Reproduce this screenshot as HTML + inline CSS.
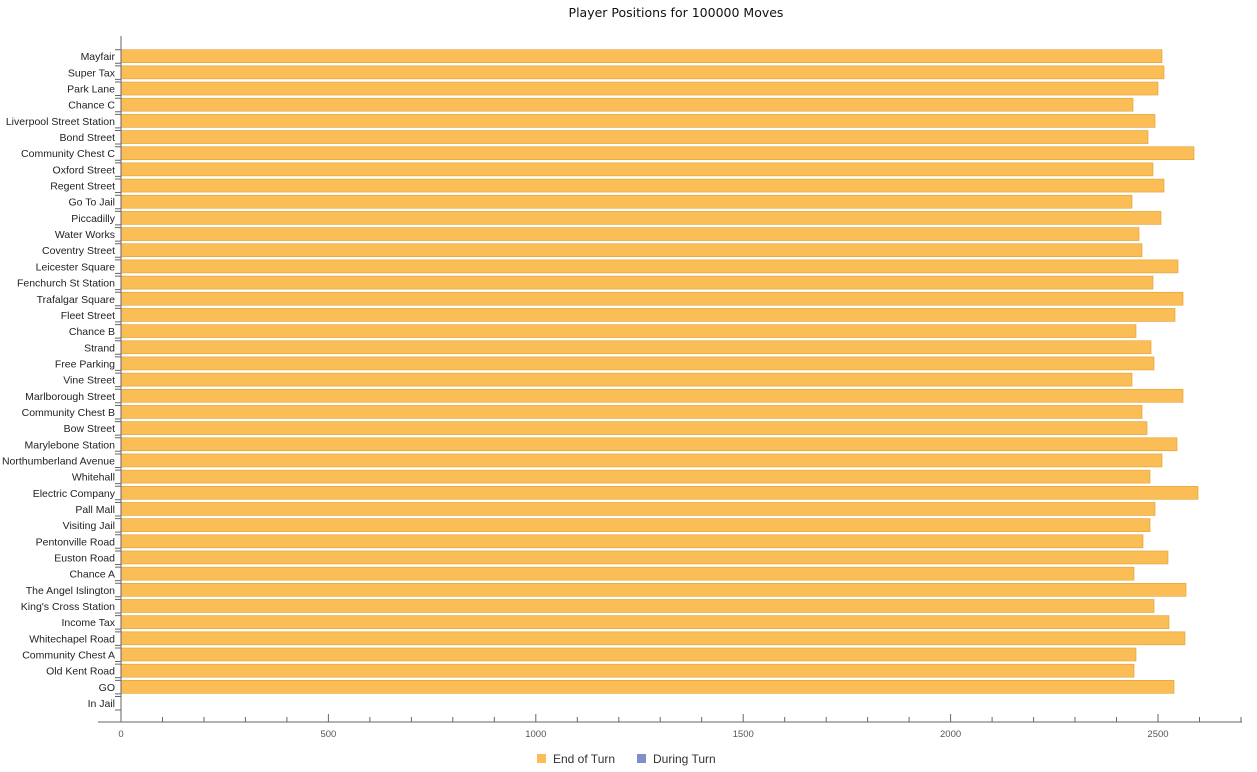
<!DOCTYPE html>
<html><head><meta charset="utf-8"><style>
body{margin:0;background:#fff;}
svg{display:block;font-family:"Liberation Sans",Arial,sans-serif;}
.l{font-size:10.5px;fill:#222;text-anchor:end;}
.t{font-size:9.5px;fill:#555;text-anchor:middle;}
.b{fill:#fbbd56;stroke:#e0a030;stroke-width:0.6;}
.k{stroke:#666;stroke-width:1;fill:none;}
</style></head><body>
<svg width="1257" height="772" viewBox="0 0 1257 772">
<text x="676" y="17" text-anchor="middle" style="font-size:12.5px;fill:#111;font-family:'DejaVu Sans','Liberation Sans',sans-serif">Player Positions for 100000 Moves</text>
<g><g transform="translate(0,49.7)"><rect class="b" x="121" y="0" width="1041" height="13"/><path class="k" d="M115 0H121M115 13.5H121"/><text class="l" x="115" y="10.5">Mayfair</text></g>
<g transform="translate(0,65.87)"><rect class="b" x="121" y="0" width="1043" height="13"/><path class="k" d="M115 0H121M115 13.5H121"/><text class="l" x="115" y="10.5">Super Tax</text></g>
<g transform="translate(0,82.04)"><rect class="b" x="121" y="0" width="1037" height="13"/><path class="k" d="M115 0H121M115 13.5H121"/><text class="l" x="115" y="10.5">Park Lane</text></g>
<g transform="translate(0,98.21)"><rect class="b" x="121" y="0" width="1012" height="13"/><path class="k" d="M115 0H121M115 13.5H121"/><text class="l" x="115" y="10.5">Chance C</text></g>
<g transform="translate(0,114.38)"><rect class="b" x="121" y="0" width="1034" height="13"/><path class="k" d="M115 0H121M115 13.5H121"/><text class="l" x="115" y="10.5">Liverpool Street Station</text></g>
<g transform="translate(0,130.55)"><rect class="b" x="121" y="0" width="1027" height="13"/><path class="k" d="M115 0H121M115 13.5H121"/><text class="l" x="115" y="10.5">Bond Street</text></g>
<g transform="translate(0,146.72)"><rect class="b" x="121" y="0" width="1073" height="13"/><path class="k" d="M115 0H121M115 13.5H121"/><text class="l" x="115" y="10.5">Community Chest C</text></g>
<g transform="translate(0,162.89)"><rect class="b" x="121" y="0" width="1032" height="13"/><path class="k" d="M115 0H121M115 13.5H121"/><text class="l" x="115" y="10.5">Oxford Street</text></g>
<g transform="translate(0,179.06)"><rect class="b" x="121" y="0" width="1043" height="13"/><path class="k" d="M115 0H121M115 13.5H121"/><text class="l" x="115" y="10.5">Regent Street</text></g>
<g transform="translate(0,195.23)"><rect class="b" x="121" y="0" width="1011" height="13"/><path class="k" d="M115 0H121M115 13.5H121"/><text class="l" x="115" y="10.5">Go To Jail</text></g>
<g transform="translate(0,211.4)"><rect class="b" x="121" y="0" width="1040" height="13"/><path class="k" d="M115 0H121M115 13.5H121"/><text class="l" x="115" y="10.5">Piccadilly</text></g>
<g transform="translate(0,227.57)"><rect class="b" x="121" y="0" width="1018" height="13"/><path class="k" d="M115 0H121M115 13.5H121"/><text class="l" x="115" y="10.5">Water Works</text></g>
<g transform="translate(0,243.74)"><rect class="b" x="121" y="0" width="1021" height="13"/><path class="k" d="M115 0H121M115 13.5H121"/><text class="l" x="115" y="10.5">Coventry Street</text></g>
<g transform="translate(0,259.91)"><rect class="b" x="121" y="0" width="1057" height="13"/><path class="k" d="M115 0H121M115 13.5H121"/><text class="l" x="115" y="10.5">Leicester Square</text></g>
<g transform="translate(0,276.08)"><rect class="b" x="121" y="0" width="1032" height="13"/><path class="k" d="M115 0H121M115 13.5H121"/><text class="l" x="115" y="10.5">Fenchurch St Station</text></g>
<g transform="translate(0,292.25)"><rect class="b" x="121" y="0" width="1062" height="13"/><path class="k" d="M115 0H121M115 13.5H121"/><text class="l" x="115" y="10.5">Trafalgar Square</text></g>
<g transform="translate(0,308.42)"><rect class="b" x="121" y="0" width="1054" height="13"/><path class="k" d="M115 0H121M115 13.5H121"/><text class="l" x="115" y="10.5">Fleet Street</text></g>
<g transform="translate(0,324.59)"><rect class="b" x="121" y="0" width="1015" height="13"/><path class="k" d="M115 0H121M115 13.5H121"/><text class="l" x="115" y="10.5">Chance B</text></g>
<g transform="translate(0,340.76)"><rect class="b" x="121" y="0" width="1030" height="13"/><path class="k" d="M115 0H121M115 13.5H121"/><text class="l" x="115" y="10.5">Strand</text></g>
<g transform="translate(0,356.93)"><rect class="b" x="121" y="0" width="1033" height="13"/><path class="k" d="M115 0H121M115 13.5H121"/><text class="l" x="115" y="10.5">Free Parking</text></g>
<g transform="translate(0,373.1)"><rect class="b" x="121" y="0" width="1011" height="13"/><path class="k" d="M115 0H121M115 13.5H121"/><text class="l" x="115" y="10.5">Vine Street</text></g>
<g transform="translate(0,389.27)"><rect class="b" x="121" y="0" width="1062" height="13"/><path class="k" d="M115 0H121M115 13.5H121"/><text class="l" x="115" y="10.5">Marlborough Street</text></g>
<g transform="translate(0,405.44)"><rect class="b" x="121" y="0" width="1021" height="13"/><path class="k" d="M115 0H121M115 13.5H121"/><text class="l" x="115" y="10.5">Community Chest B</text></g>
<g transform="translate(0,421.61)"><rect class="b" x="121" y="0" width="1026" height="13"/><path class="k" d="M115 0H121M115 13.5H121"/><text class="l" x="115" y="10.5">Bow Street</text></g>
<g transform="translate(0,437.78)"><rect class="b" x="121" y="0" width="1056" height="13"/><path class="k" d="M115 0H121M115 13.5H121"/><text class="l" x="115" y="10.5">Marylebone Station</text></g>
<g transform="translate(0,453.95)"><rect class="b" x="121" y="0" width="1041" height="13"/><path class="k" d="M115 0H121M115 13.5H121"/><text class="l" x="115" y="10.5">Northumberland Avenue</text></g>
<g transform="translate(0,470.12)"><rect class="b" x="121" y="0" width="1029" height="13"/><path class="k" d="M115 0H121M115 13.5H121"/><text class="l" x="115" y="10.5">Whitehall</text></g>
<g transform="translate(0,486.29)"><rect class="b" x="121" y="0" width="1077" height="13"/><path class="k" d="M115 0H121M115 13.5H121"/><text class="l" x="115" y="10.5">Electric Company</text></g>
<g transform="translate(0,502.46)"><rect class="b" x="121" y="0" width="1034" height="13"/><path class="k" d="M115 0H121M115 13.5H121"/><text class="l" x="115" y="10.5">Pall Mall</text></g>
<g transform="translate(0,518.63)"><rect class="b" x="121" y="0" width="1029" height="13"/><path class="k" d="M115 0H121M115 13.5H121"/><text class="l" x="115" y="10.5">Visiting Jail</text></g>
<g transform="translate(0,534.8)"><rect class="b" x="121" y="0" width="1022" height="13"/><path class="k" d="M115 0H121M115 13.5H121"/><text class="l" x="115" y="10.5">Pentonville Road</text></g>
<g transform="translate(0,550.97)"><rect class="b" x="121" y="0" width="1047" height="13"/><path class="k" d="M115 0H121M115 13.5H121"/><text class="l" x="115" y="10.5">Euston Road</text></g>
<g transform="translate(0,567.14)"><rect class="b" x="121" y="0" width="1013" height="13"/><path class="k" d="M115 0H121M115 13.5H121"/><text class="l" x="115" y="10.5">Chance A</text></g>
<g transform="translate(0,583.31)"><rect class="b" x="121" y="0" width="1065" height="13"/><path class="k" d="M115 0H121M115 13.5H121"/><text class="l" x="115" y="10.5">The Angel Islington</text></g>
<g transform="translate(0,599.48)"><rect class="b" x="121" y="0" width="1033" height="13"/><path class="k" d="M115 0H121M115 13.5H121"/><text class="l" x="115" y="10.5">King's Cross Station</text></g>
<g transform="translate(0,615.65)"><rect class="b" x="121" y="0" width="1048" height="13"/><path class="k" d="M115 0H121M115 13.5H121"/><text class="l" x="115" y="10.5">Income Tax</text></g>
<g transform="translate(0,631.82)"><rect class="b" x="121" y="0" width="1064" height="13"/><path class="k" d="M115 0H121M115 13.5H121"/><text class="l" x="115" y="10.5">Whitechapel Road</text></g>
<g transform="translate(0,647.99)"><rect class="b" x="121" y="0" width="1015" height="13"/><path class="k" d="M115 0H121M115 13.5H121"/><text class="l" x="115" y="10.5">Community Chest A</text></g>
<g transform="translate(0,664.16)"><rect class="b" x="121" y="0" width="1013" height="13"/><path class="k" d="M115 0H121M115 13.5H121"/><text class="l" x="115" y="10.5">Old Kent Road</text></g>
<g transform="translate(0,680.33)"><rect class="b" x="121" y="0" width="1053" height="13"/><path class="k" d="M115 0H121M115 13.5H121"/><text class="l" x="115" y="10.5">GO</text></g>
<g transform="translate(0,696.5)"><path class="k" d="M115 0H121M115 13.5H121"/><text class="l" x="115" y="10.5">In Jail</text></g></g>
<g stroke="#666" stroke-width="1">
<line x1="121" y1="36" x2="121" y2="722"/>
<line x1="98" y1="722" x2="1242" y2="722"/>
<line x1="121" y1="722" x2="121" y2="714"/><line x1="328.4" y1="722" x2="328.4" y2="714"/><line x1="535.8" y1="722" x2="535.8" y2="714"/><line x1="743.2" y1="722" x2="743.2" y2="714"/><line x1="950.6" y1="722" x2="950.6" y2="714"/><line x1="1158" y1="722" x2="1158" y2="714"/>
<line x1="162.5" y1="722" x2="162.5" y2="717"/><line x1="204" y1="722" x2="204" y2="717"/><line x1="245.4" y1="722" x2="245.4" y2="717"/><line x1="286.9" y1="722" x2="286.9" y2="717"/>
<line x1="369.9" y1="722" x2="369.9" y2="717"/><line x1="411.4" y1="722" x2="411.4" y2="717"/><line x1="452.8" y1="722" x2="452.8" y2="717"/><line x1="494.3" y1="722" x2="494.3" y2="717"/>
<line x1="577.3" y1="722" x2="577.3" y2="717"/><line x1="618.8" y1="722" x2="618.8" y2="717"/><line x1="660.2" y1="722" x2="660.2" y2="717"/><line x1="701.7" y1="722" x2="701.7" y2="717"/>
<line x1="784.7" y1="722" x2="784.7" y2="717"/><line x1="826.2" y1="722" x2="826.2" y2="717"/><line x1="867.6" y1="722" x2="867.6" y2="717"/><line x1="909.1" y1="722" x2="909.1" y2="717"/>
<line x1="992.1" y1="722" x2="992.1" y2="717"/><line x1="1033.6" y1="722" x2="1033.6" y2="717"/><line x1="1075" y1="722" x2="1075" y2="717"/><line x1="1116.5" y1="722" x2="1116.5" y2="717"/>
<line x1="1199.5" y1="722" x2="1199.5" y2="717"/><line x1="1241" y1="722" x2="1241" y2="717"/>
</g>
<text class="t" x="121" y="737">0</text><text class="t" x="328.4" y="737">500</text><text class="t" x="535.8" y="737">1000</text><text class="t" x="743.2" y="737">1500</text><text class="t" x="950.6" y="737">2000</text><text class="t" x="1158" y="737">2500</text>
<rect x="537" y="754" width="9" height="9" fill="#fbbd56"/>
<text x="553" y="763" style="font-size:12px;fill:#333">End of Turn</text>
<rect x="637" y="754" width="9" height="9" fill="#7f8fc9"/>
<text x="653" y="763" style="font-size:12px;fill:#333">During Turn</text>
</svg>
</body></html>
